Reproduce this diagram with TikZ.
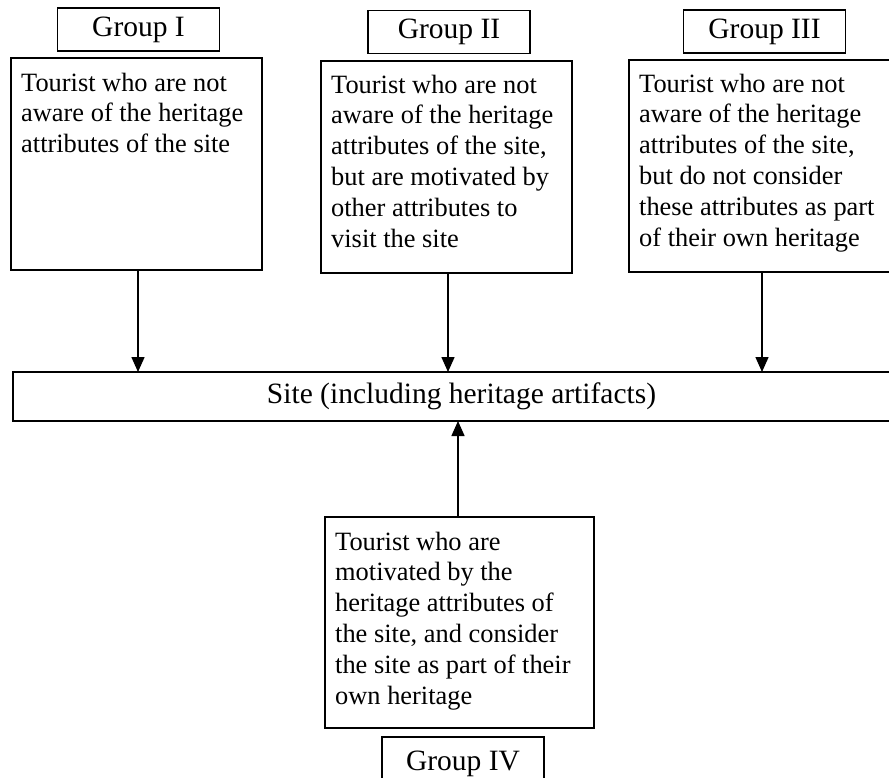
\documentclass[tikz,border=0pt]{standalone}
\usepackage{fontspec}
\setmainfont{Liberation Serif}
\usetikzlibrary{arrows.meta}

\newcommand{\bodyfont}{\fontsize{26.4}{30.9}\selectfont}
\newcommand{\labelfont}{\fontsize{29.5}{34}\selectfont}

\tikzset{
  panel/.style={draw, line width=1.7pt, rectangle, inner sep=0pt, outer sep=0pt, anchor=north west},
  grouplabel/.style={draw, line width=1.7pt, rectangle, inner sep=0pt, outer sep=0pt,
    minimum width=162pt, minimum height=43pt, font=\labelfont},
  desc/.style={inner sep=0pt, anchor=base west, font=\bodyfont},
  arr/.style={line width=1.5pt, -{Triangle[length=15pt,width=13pt]}}
}

\begin{document}
\begin{tikzpicture}[x=1pt, y=-1pt]
  \useasboundingbox (0,0) rectangle (889,777);
  \clip (0,0) rectangle (889,777);

  % group labels
  \node[grouplabel] (g1) at (138.5,29.5) {Group I};
  \node[grouplabel] (g2) at (449,32) {Group II};
  \node[grouplabel] (g3) at (764.5,31.5) {Group III};
  % the last label runs off the lower edge
  \node[grouplabel, minimum height=54pt] (g4) at (463,764) {\raisebox{5.5pt}{Group IV}};

  % description boxes
  \node[panel, minimum width=251pt, minimum height=212pt] (b1) at (11,58) {};
  \node[panel, minimum width=251pt, minimum height=212pt] (b2) at (321,61) {};
  \node[panel, minimum width=266pt, minimum height=212pt] (b3) at (629,60) {};
  \node[panel, minimum width=269pt, minimum height=211pt] (b4) at (325,517) {};

  \node[desc] (t1) at (21,91) {\parbox[t]{240pt}{\raggedright
    Tourist who are not\\ aware of the heritage\\ attributes of the site}};
  \node[desc] (t2) at (331,93) {\parbox[t]{240pt}{\raggedright
    Tourist who are not\\ aware of the heritage\\ attributes of the site,\\
    but are motivated by\\ other attributes to\\ visit the site}};
  \node[desc] (t3) at (639,92) {\parbox[t]{250pt}{\raggedright
    Tourist who are not\\ aware of the heritage\\ attributes of the site,\\
    but do not consider\\ these attributes as part\\ of their own heritage}};
  \node[desc] (t4) at (335,550) {\parbox[t]{255pt}{\raggedright
    Tourist who are\\ motivated by the\\ heritage attributes of\\
    the site, and consider\\ the site as part of their\\ own heritage}};

  % the site
  \node[draw, line width=1.7pt, rectangle, inner sep=0pt, outer sep=0pt,
        minimum width=897pt, minimum height=49pt, font=\labelfont]
        (site) at (461.5,396.5) {Site (including heritage artifacts)};

  % connectors
  \draw[arr] ([xshift=1.5pt]b1.south) -- ([xshift=1.5pt]b1.south |- site.north);
  \draw[arr] ([xshift=1.5pt]b2.south) -- ([xshift=1.5pt]b2.south |- site.north);
  \draw[arr] (b3.south) -- (b3.south |- site.north);
  \draw[arr] ([xshift=-1.5pt]b4.north) -- ([xshift=-1.5pt]b4.north |- site.south);
\end{tikzpicture}
\end{document}
